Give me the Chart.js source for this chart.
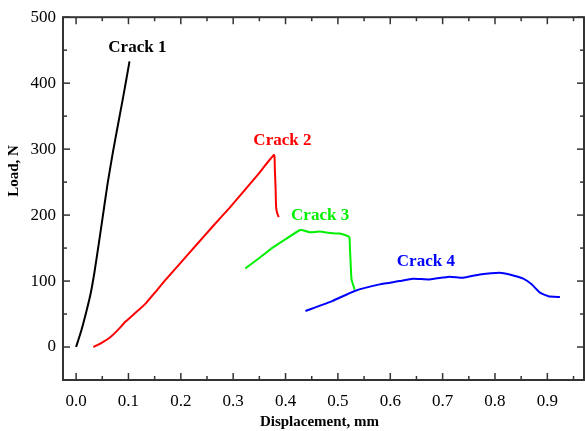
<!DOCTYPE html>
<html><head><meta charset="utf-8">
<script src="https://cdn.jsdelivr.net/npm/chart.js@4.4.1/dist/chart.umd.min.js"></script>
<style>html,body{margin:0;padding:0;background:#fff;}canvas{display:block;}</style>
</head><body>
<canvas id="c" width="585" height="431"></canvas>
<script>
// ---- data (displacement in mm, load in N) ----
const crack1X = [0, 0.01, 0.02, 0.028, 0.035, 0.043, 0.051, 0.06, 0.07, 0.08, 0.089, 0.096, 0.102];
const crack1Y = [0, 25, 55, 82, 113, 155, 198, 247, 294, 337, 375, 406, 433];
const crack2X = [0.033, 0.048, 0.064, 0.08, 0.095, 0.115, 0.134, 0.15, 0.172, 0.2, 0.23, 0.26, 0.293, 0.32, 0.35, 0.378, 0.3795, 0.381, 0.382, 0.384, 0.387];
const crack2Y = [0, 6, 14, 26, 39, 53, 67, 82, 103, 128, 155, 182, 211, 236, 264, 291, 272, 240, 212, 203, 197];
const crack3X = [0.323, 0.35, 0.376, 0.401, 0.427, 0.433, 0.446, 0.465, 0.484, 0.503, 0.516, 0.522, 0.523, 0.524, 0.526, 0.532];
const crack3Y = [119, 135, 151, 164, 177, 177, 174, 175, 173, 172, 169, 166, 150, 133, 103, 87];
const crack4X = [0.438, 0.49, 0.532, 0.58, 0.618, 0.643, 0.675, 0.713, 0.739, 0.771, 0.809, 0.828, 0.854, 0.870, 0.886, 0.902, 0.924];
const crack4Y = [54.5, 70, 85, 95, 100, 103.6, 102.5, 106.7, 105, 110, 112.7, 110, 103.6, 95, 82.4, 77, 75.8];
const seriesNames = ['Crack 1', 'Crack 2', 'Crack 3', 'Crack 4'];
const xTickLabels = ['0.0','0.1','0.2','0.3','0.4','0.5','0.6','0.7','0.8','0.9'];
const yTickLabels = ['0','100','200','300','400','500'];
const xTitle = 'Displacement, mm';
const yTitle = 'Load, N';

// ---- styling / placement (not data) ----
const colors = ['#000000', '#ff0000', '#00f000', '#0000ff'];
const labelAnchors = [[0.117, 454], [0.394, 313], [0.466, 199.5], [0.668, 130]];

const toPts = (xs, ys) => xs.map((x, i) => ({x, y: ys[i]}));
const allX = [crack1X, crack2X, crack3X, crack4X];
const allY = [crack1Y, crack2Y, crack3Y, crack4Y];

const datasets = seriesNames.map((n, i) => ({
  label: n,
  data: toPts(allX[i], allY[i]),
  borderColor: colors[i],
  backgroundColor: colors[i],
  borderWidth: 2,
  pointRadius: 0,
  showLine: true,
  tension: 0.15,
  fill: false
}));

const SERIF = '"Liberation Serif", "Times New Roman", serif';

const framePlugin = {
  id: 'frame',
  afterDatasetsDraw(chart) {
    const {ctx, chartArea: a, scales: {x, y}} = chart;
    ctx.save();
    ctx.strokeStyle = '#333';
    ctx.lineWidth = 1.5;
    const line = (x1, y1, x2, y2) => { ctx.beginPath(); ctx.moveTo(x1, y1); ctx.lineTo(x2, y2); ctx.stroke(); };
    const MAJ = 7, MIN = 4;
    x.ticks.forEach(t => {
      const px = x.getPixelForValue(t.value);
      line(px, a.bottom, px, a.bottom - MAJ);
      line(px, a.top, px, a.top + MAJ);
      const m = t.value + 0.05;
      if (m < x.max) {
        const pm = x.getPixelForValue(m);
        line(pm, a.bottom, pm, a.bottom - MIN);
        line(pm, a.top, pm, a.top + MIN);
      }
    });
    y.ticks.forEach(t => {
      const py = y.getPixelForValue(t.value);
      line(a.left, py, a.left + MAJ, py);
      line(a.right, py, a.right - MAJ, py);
      const m = t.value - 50;
      if (m > y.min) {
        const pm = y.getPixelForValue(m);
        line(a.left, pm, a.left + MIN, pm);
        line(a.right, pm, a.right - MIN, pm);
      }
    });
    ctx.lineWidth = 2;
    ctx.strokeRect(a.left, a.top, a.right - a.left, a.bottom - a.top);

    ctx.font = 'bold 17px ' + SERIF;
    ctx.textAlign = 'center';
    ctx.textBaseline = 'middle';
    seriesNames.forEach((n, i) => {
      ctx.fillStyle = colors[i];
      ctx.fillText(n, x.getPixelForValue(labelAnchors[i][0]), y.getPixelForValue(labelAnchors[i][1]));
    });

    ctx.fillStyle = '#000';
    ctx.font = 'bold 15px ' + SERIF;
    ctx.fillText(xTitle, (a.left + a.right) / 2 - 4, 422);
    ctx.translate(14, 171);
    ctx.rotate(-Math.PI / 2);
    ctx.fillText(yTitle, 0, 0);
    ctx.restore();
  }
};

new Chart(document.getElementById('c'), {
  type: 'scatter',
  data: {datasets},
  options: {
    responsive: false,
    animation: false,
    devicePixelRatio: 1,
    layout: {padding: {top: 17, right: 1, left: 0, bottom: 0}},
    plugins: {legend: {display: false}, tooltip: {enabled: false}},
    scales: {
      x: {
        type: 'linear', min: -0.025, max: 0.97,
        afterFit: s => { s.height = 51; },
        grid: {display: false, drawTicks: false},
        border: {display: false},
        ticks: {
          stepSize: 0.1, includeBounds: false, autoSkip: false, maxRotation: 0, padding: 11,
          color: '#000', font: {family: SERIF, size: 17},
          callback: v => { const i = Math.round(v * 10); return (Math.abs(v * 10 - i) < 1e-6 && xTickLabels[i] !== undefined) ? xTickLabels[i] : ''; }
        }
      },
      y: {
        type: 'linear', min: -50, max: 500,
        afterFit: s => { s.width = 63; },
        grid: {display: false, drawTicks: false},
        border: {display: false},
        ticks: {
          stepSize: 100, includeBounds: false, autoSkip: false, padding: 7,
          color: '#000', font: {family: SERIF, size: 17},
          callback: v => { const i = Math.round(v / 100); return (Math.abs(v / 100 - i) < 1e-6 && yTickLabels[i] !== undefined) ? yTickLabels[i] : ''; }
        }
      }
    }
  },
  plugins: [framePlugin]
});
</script>
</body></html>
